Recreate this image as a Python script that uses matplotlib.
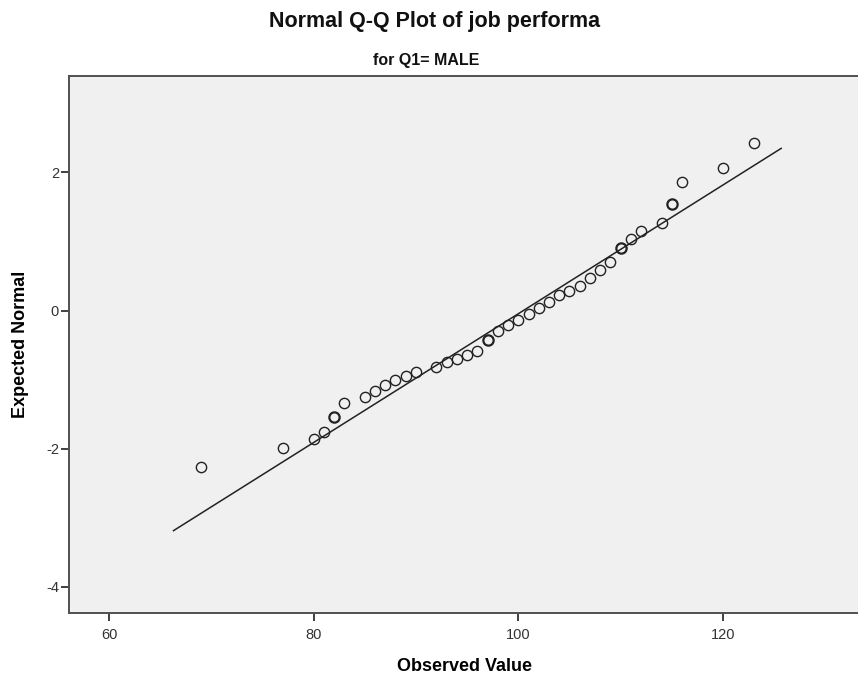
import matplotlib.pyplot as plt
import numpy as np

# observed job performance scores (male group) and their expected normal values
observed = [69, 77, 80, 81, 82, 83, 85, 86, 87, 88, 89, 90, 92, 93, 94, 95, 96,
            97, 98, 99, 100, 101, 102, 103, 104, 105, 106, 107, 108, 109, 110,
            111, 112, 114, 115, 116, 120, 123]
expected = [-2.27, -1.99, -1.86, -1.76, -1.54, -1.34, -1.25, -1.17, -1.08, -1.00,
            -0.95, -0.885, -0.82, -0.75, -0.705, -0.65, -0.58, -0.43, -0.30, -0.21,
            -0.13, -0.05, 0.03, 0.13, 0.23, 0.29, 0.36, 0.47, 0.58, 0.71, 0.90,
            1.04, 1.15, 1.27, 1.54, 1.86, 2.07, 2.42]
# cases sharing the same score (drawn heavier)
ties = [1, 1, 1, 1, 2, 1, 1, 1, 1, 1, 1, 1, 1, 1, 1, 1, 1, 2, 1, 1, 1, 1, 1, 1,
        1, 1, 1, 1, 1, 1, 2, 1, 1, 1, 2, 1, 1, 1]

# reference line: mean and sd of the sample
mean_val = 100.5
sd_val = 10.73
line_x = [66.3, 125.7]

x_ticks = [60, 80, 100, 120]
y_ticks = [-4, -2, 0, 2]

plt.rcParams['font.family'] = ['Liberation Sans', 'DejaVu Sans']
plt.rcParams['axes.unicode_minus'] = False

fig = plt.figure(figsize=(8.58, 6.8), dpi=100, facecolor='white')
ax = fig.add_axes([0.0801, 0.0985, 0.9234, 0.7901])
ax.set_facecolor('#f0f0f0')

line_y = [(v - mean_val) / sd_val for v in line_x]
ax.plot(line_x, line_y, color='#222222', linewidth=1.1, zorder=2)

for xv, yv, n in zip(observed, expected, ties):
    ax.plot(xv, yv, 'o', markersize=7.4, markerfacecolor='none',
            markeredgecolor='#222222', markeredgewidth=1.0 if n == 1 else 1.6,
            zorder=3)

ax.set_xlim(56.06, 133.5)
ax.set_ylim(-4.38, 3.40)
ax.set_xticks(x_ticks)
ax.set_yticks(y_ticks)

for side in ['left', 'bottom', 'top', 'right']:
    ax.spines[side].set_color('#505050')
    ax.spines[side].set_linewidth(1.4)

ax.tick_params(axis='both', direction='out', length=6, width=1.4,
               color='#404040', labelcolor='#333333', labelsize=10.5)
ax.tick_params(axis='x', pad=5)
ax.tick_params(axis='y', pad=1)

ax.set_xlabel('Observed Value', fontsize=13, fontweight='bold', labelpad=11)
ax.set_ylabel('Expected Normal', fontsize=13, fontweight='bold', labelpad=12)

fig.text(0.506, 0.96, 'Normal Q-Q Plot of job performa', ha='center',
         va='baseline', fontsize=15.5, fontweight='bold', color='#111111')
fig.text(0.497, 0.905, 'for Q1= MALE', ha='center', va='baseline',
         fontsize=11.5, fontweight='bold', color='#111111')

plt.savefig('out.png', dpi=100, facecolor=fig.get_facecolor())
